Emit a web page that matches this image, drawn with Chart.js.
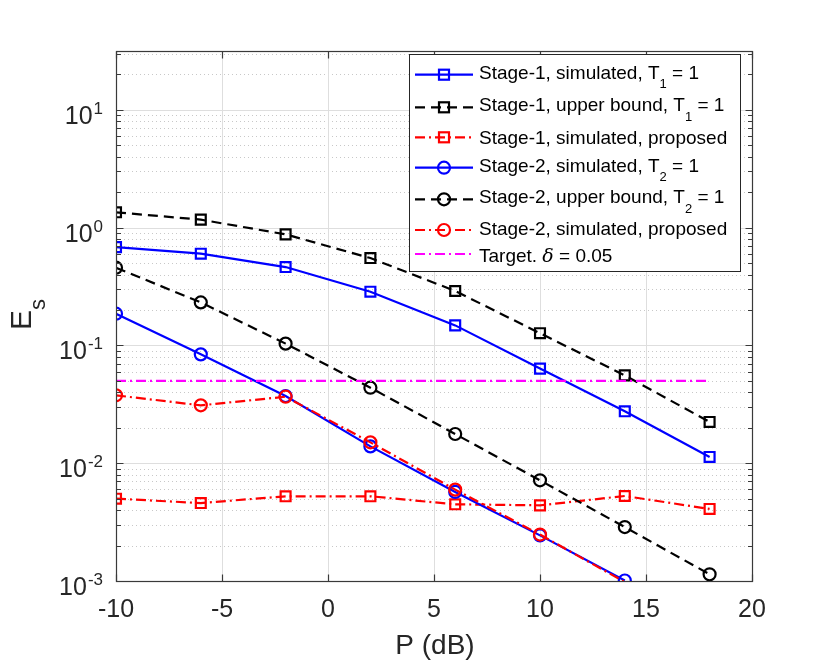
<!DOCTYPE html>
<html>
<head>
<meta charset="utf-8">
<script src="https://cdn.jsdelivr.net/npm/chart.js@4.4.1/dist/chart.umd.min.js"></script>
<style>
  html, body { margin: 0; background: #fff; }
  #wrap { width: 830px; height: 664px; }
</style>
</head>
<body>
<div id="wrap"><canvas id="c" width="830" height="664"></canvas></div>
<script>
// x values (dB) and the series
const powerDb = [-10, -6, -2, 2, 6, 10, 14, 18];
const s1Sim   = [0.684, 0.601, 0.463, 0.286, 0.148, 0.0636, 0.0276, 0.0113];
const s1Bound = [1.35, 1.17, 0.877, 0.552, 0.290, 0.127, 0.0557, 0.0224];
const s1Prop  = [0.0050, 0.00459, 0.00524, 0.00524, 0.00448, 0.00439, 0.00527, 0.00409];
const s2Sim   = [0.186, 0.084, 0.0372, 0.0139, 0.0057, 0.00244, 0.00101, null];
const s2Bound = [0.457, 0.232, 0.1036, 0.0438, 0.0177, 0.00716, 0.00287, 0.00114];
const s2Prop  = [0.0377, 0.031, 0.0367, 0.01504, 0.00597, 0.00248, 0.00098, null];
const targetX = [-10, 18];
const targetY = [0.05, 0.05];

const labels = [
  'Stage-1, simulated, T_1 = 1',
  'Stage-1, upper bound, T_1 = 1',
  'Stage-1, simulated, proposed',
  'Stage-2, simulated, T_2 = 1',
  'Stage-2, upper bound, T_2 = 1',
  'Stage-2, simulated, proposed',
  'Target. δ = 0.05'
];
const xTicks = [-10, -5, 0, 5, 10, 15, 20];
const yDecades = [-3, -2, -1, 0, 1];
const yMin = 1e-3, yMax = Math.pow(10, 1.5);

const FONT = '"Liberation Sans", Arial, Helvetica, sans-serif';
const INK = '#262626';

const pts = (xs, vals) => xs.map((p, i) => ({ x: p, y: vals[i] })).filter(d => d.y != null);
// markers below the axis floor are not drawn (line still runs to the edge)
const markerSize = r => c => (c.raw && c.raw.y < yMin ? 0 : r);

function series(i, vals, color, dash, marker) {
  return {
    label: labels[i],
    data: pts(powerDb, vals),
    borderColor: color,
    borderWidth: 2.2,
    borderDash: dash,
    tension: 0,
    pointStyle: marker,
    pointRadius: markerSize(marker === 'rect' ? 7 : 6),
    pointBorderWidth: 2.2,
    pointBorderColor: color,
    pointBackgroundColor: 'rgba(0,0,0,0)',
    order: 10 - i
  };
}

const DASH = [10, 6];
const DASHDOT = [10, 4, 2, 4];

const datasets = [
  series(0, s1Sim, '#0000ff', [], 'rect'),
  series(1, s1Bound, '#000000', DASH, 'rect'),
  series(2, s1Prop, '#ff0000', DASHDOT, 'rect'),
  series(3, s2Sim, '#0000ff', [], 'circle'),
  series(4, s2Bound, '#000000', DASH, 'circle'),
  series(5, s2Prop, '#ff0000', DASHDOT, 'circle'),
  {
    label: labels[6],
    data: pts(targetX, targetY),
    borderColor: '#ff00ff',
    borderWidth: 2.2,
    borderDash: DASHDOT,
    pointRadius: 0,
    order: 3
  }
];

// text with _x subscripts and italic delta
function richText(ctx, str, x, base, size, subSize, subDrop) {
  str.split(/(_\w|δ)/).forEach(p => {
    if (!p) return;
    let t = p, font = `${size}px ${FONT}`, b = base;
    if (p[0] === '_') { t = p.slice(1); font = `${subSize}px ${FONT}`; b = base + subDrop; }
    else if (p === 'δ') { font = `italic ${size}px "DejaVu Serif", serif`; }
    ctx.font = font;
    ctx.fillText(t, x, b);
    x += ctx.measureText(t).width;
  });
}

const frame = {
  id: 'frame',
  beforeDatasetsDraw(chart) {
    const { ctx, chartArea: a, scales: { x, y } } = chart;
    ctx.save();
    ctx.lineWidth = 1;
    // minor grid, dotted
    ctx.strokeStyle = '#c8c8c8';
    ctx.setLineDash([1, 3]);
    yDecades.forEach(k => {
      for (let m = 2; m <= 9; m++) {
        const v = m * Math.pow(10, k);
        if (v >= yMax) break;
        const py = Math.round(y.getPixelForValue(v)) + 0.5;
        ctx.beginPath(); ctx.moveTo(a.left, py); ctx.lineTo(a.right, py); ctx.stroke();
      }
    });
    // major grid
    ctx.setLineDash([]);
    ctx.strokeStyle = '#dedede';
    xTicks.forEach(t => {
      const px = Math.round(x.getPixelForValue(t)) + 0.5;
      ctx.beginPath(); ctx.moveTo(px, a.top); ctx.lineTo(px, a.bottom); ctx.stroke();
    });
    yDecades.forEach(k => {
      const py = Math.round(y.getPixelForValue(Math.pow(10, k))) + 0.5;
      ctx.beginPath(); ctx.moveTo(a.left, py); ctx.lineTo(a.right, py); ctx.stroke();
    });
    ctx.restore();
  },
  afterDatasetsDraw(chart) {
    const { ctx, chartArea: a, scales: { x, y } } = chart;
    ctx.save();
    ctx.strokeStyle = '#3a3a3a';
    ctx.lineWidth = 1.2;
    ctx.setLineDash([]);
    const L = Math.round(a.left) + 0.5, R = Math.round(a.right) + 0.5;
    const T = Math.round(a.top) + 0.5, B = Math.round(a.bottom) + 0.5;
    ctx.strokeRect(L, T, R - L, B - T);

    // ticks, pointing inward on all four sides
    ctx.beginPath();
    xTicks.forEach(t => {
      const px = Math.round(x.getPixelForValue(t)) + 0.5;
      ctx.moveTo(px, B); ctx.lineTo(px, B - 7);
      ctx.moveTo(px, T); ctx.lineTo(px, T + 7);
    });
    yDecades.forEach(k => {
      for (let m = 1; m <= 9; m++) {
        const v = m * Math.pow(10, k);
        if (v >= yMax) break;
        const len = m === 1 ? 7 : 4.5;
        const py = Math.round(y.getPixelForValue(v)) + 0.5;
        ctx.moveTo(L, py); ctx.lineTo(L + len, py);
        ctx.moveTo(R, py); ctx.lineTo(R - len, py);
      }
    });
    ctx.stroke();

    // x tick labels
    ctx.fillStyle = INK;
    ctx.textBaseline = 'alphabetic';
    ctx.textAlign = 'center';
    ctx.font = `25px ${FONT}`;
    xTicks.forEach(t => ctx.fillText(String(t), x.getPixelForValue(t), 617));

    // y tick labels: 10 with superscript exponent
    yDecades.forEach(k => {
      const py = y.getPixelForValue(Math.pow(10, k));
      const exp = String(k);
      ctx.font = `17px ${FONT}`;
      const ew = ctx.measureText(exp).width;
      const right = 103;
      ctx.textAlign = 'left';
      ctx.fillText(exp, right - ew, py + 4);
      ctx.textAlign = 'right';
      ctx.font = `25px ${FONT}`;
      ctx.fillText('10', right - ew - 1, py + 14);
    });

    // axis titles
    ctx.textAlign = 'center';
    ctx.font = `28px ${FONT}`;
    ctx.fillText('P (dB)', 435, 654);

    ctx.save();
    ctx.translate(31, 330);
    ctx.rotate(-Math.PI / 2);
    ctx.textAlign = 'left';
    richText(ctx, 'E_s', 0, 0, 30, 22, 14);
    ctx.restore();
    ctx.restore();
  }
};

const legendBox = {
  id: 'legendBox',
  afterDraw(chart) {
    const { ctx } = chart;
    const box = { l: 409, t: 54, r: 740, b: 271 };
    const sampleY = [74.7, 107.3, 137.3, 167.7, 199.3, 230, 254];
    const textBase = [78.7, 111.3, 143.7, 171.7, 203.3, 235, 261.7];
    ctx.save();
    ctx.fillStyle = '#fff';
    ctx.fillRect(box.l, box.t, box.r - box.l, box.b - box.t);
    ctx.strokeStyle = INK;
    ctx.lineWidth = 1;
    ctx.strokeRect(box.l + 0.5, box.t + 0.5, box.r - box.l, box.b - box.t);

    chart.data.datasets.forEach((ds, i) => {
      const yy = sampleY[i];
      ctx.strokeStyle = ds.borderColor;
      ctx.lineWidth = ds.borderWidth;
      ctx.setLineDash(ds.borderDash || []);
      ctx.beginPath(); ctx.moveTo(415, yy); ctx.lineTo(473, yy); ctx.stroke();
      ctx.setLineDash([]);
      if (ds.pointStyle === 'rect') {
        ctx.strokeRect(444 - 5, yy - 5, 10, 10);
      } else if (ds.pointStyle === 'circle') {
        ctx.beginPath(); ctx.arc(444, yy, 6, 0, Math.PI * 2); ctx.stroke();
      }
      ctx.fillStyle = '#000';
      ctx.textAlign = 'left';
      ctx.textBaseline = 'alphabetic';
      richText(ctx, ds.label, 479, textBase[i], 19, 13, 9.5);
    });
    ctx.restore();
  }
};

new Chart(document.getElementById('c'), {
  type: 'line',
  data: { datasets },
  options: {
    responsive: false,
    animation: false,
    devicePixelRatio: 1,
    layout: { padding: { left: 116, top: 51, right: 78, bottom: 83 } },
    scales: {
      x: { type: 'linear', min: -10, max: 20, display: false },
      y: { type: 'logarithmic', min: yMin, max: yMax, display: false }
    },
    plugins: { legend: { display: false }, tooltip: { enabled: false } }
  },
  plugins: [frame, legendBox]
});
</script>
</body>
</html>
